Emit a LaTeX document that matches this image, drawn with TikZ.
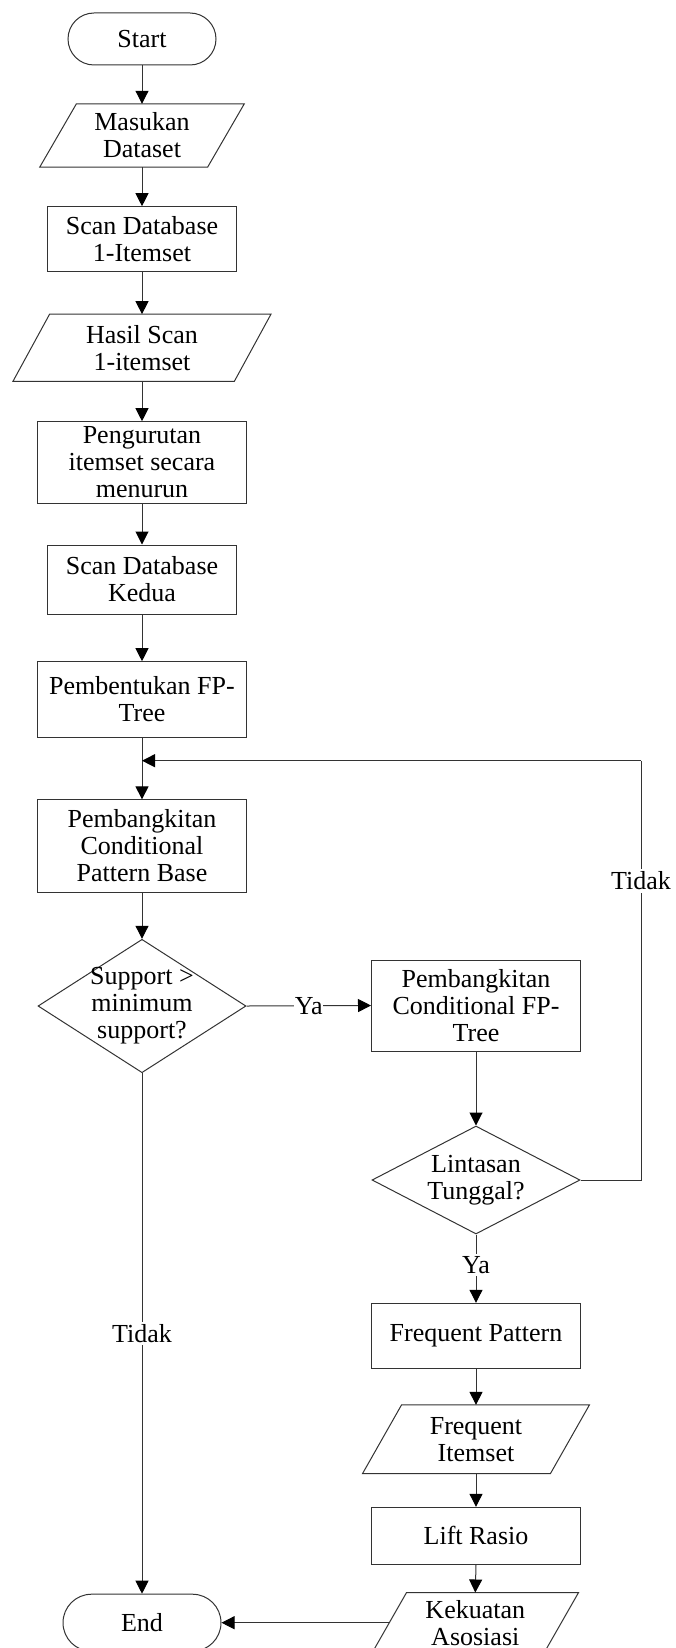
\documentclass[tikz,border=0pt]{standalone}
\usepackage{fontspec}
\setmainfont{Liberation Serif}
\usetikzlibrary{shapes.geometric,shapes.misc,arrows.meta,calc}
\tikzset{
  base/.style={font=\fontsize{26}{27}\selectfont, align=center, inner sep=1pt},
  term/.style={base, rounded rectangle, draw=black!80, line width=1pt},
  proc/.style={base, rectangle, draw=black!80, line width=1pt},
  iobox/.style={base, rectangle},
  dec/.style={base, diamond, draw=black!80, line width=1pt, inner sep=0pt},
  conn/.style={draw=black!80, line width=1pt},
  arr/.style={conn, -{Triangle[width=13pt,length=13pt,color=black]}},
  lbl/.style={base, fill=white, inner xsep=0.5pt, inner ysep=2.5pt},
}
\newcommand\parabox[2]{%
  \draw[conn] ($(#1.north west)+(#2,0)$) -- ($(#1.north east)+(#2,0)$)
    -- ($(#1.south east)-(#2,0)$) -- ($(#1.south west)-(#2,0)$) -- cycle;}
\begin{document}
\begin{tikzpicture}[x=1pt,y=-1pt]
\useasboundingbox (0,0) rectangle (675,1648);
% main column
\node[term, minimum width=150pt, minimum height=52pt] (start) at (142,39) {Start};
\node[iobox, minimum width=167.5pt, minimum height=63pt] (in1) at (142,135.5) {Masukan\\Dataset};
\parabox{in1}{18.35}
\node[proc, minimum width=188.3pt, minimum height=65pt] (scan1) at (142,239.2) {Scan Database\\1-Itemset};
\node[iobox, minimum width=221pt, minimum height=66.7pt] (in2) at (142,347.7) {Hasil Scan\\1-itemset};
\parabox{in2}{18.3}
\node[proc, minimum width=209.4pt, minimum height=81.6pt] (sort) at (142,462.5) {Pengurutan\\itemset secara\\menurun};
\node[proc, minimum width=188.3pt, minimum height=69pt] (scan2) at (142,579.5) {Scan Database\\Kedua};
\node[proc, minimum width=209.4pt, minimum height=75.6pt] (fptree) at (142,699.5) {Pembentukan FP-\\Tree};
\node[proc, minimum width=209.4pt, minimum height=92.3pt] (cpb) at (142,846) {Pembangkitan\\Conditional\\Pattern Base};
\node[dec, minimum width=208pt, minimum height=133.4pt,
      label={[base]center:{Support >\\minimum\\support?}}] (dec1) at (142,1006) {};
\node[term, minimum width=160pt, minimum height=57pt] (end) at (142,1622.7) {End};
% right column
\node[proc, minimum width=209pt, minimum height=91pt] (cfp) at (476,1005.5) {Pembangkitan\\Conditional FP-\\Tree};
\node[dec, minimum width=208pt, minimum height=108pt,
      label={[base]center:{Lintasan\\Tunggal?}}] (dec2) at (476,1180) {};
\node[proc, minimum width=209.4pt, minimum height=65pt] (fp) at (476,1335.8) {Frequent Pattern};
\node[iobox, minimum width=187.5pt, minimum height=68.3pt] (in3) at (476,1439.2) {Frequent\\Itemset};
\parabox{in3}{19.5}
\node[proc, minimum width=209.4pt, minimum height=57pt] (lift) at (476,1535.8) {Lift Rasio};
\node[iobox, minimum width=171.6pt, minimum height=60pt] (in4) at (475.3,1622.7) {Kekuatan\\Asosiasi};
\parabox{in4}{17.25}
% loop coordinates
\coordinate (loopj) at (142,760.7);
\coordinate (rtop) at (641,760.7);
\coordinate (rmid) at (641,1180);
% connectors
\draw[arr] (start.south) -- (in1.north);
\draw[arr] (in1.south) -- (scan1.north);
\draw[arr] (scan1.south) -- (in2.north);
\draw[arr] (in2.south) -- (sort.north);
\draw[arr] (sort.south) -- (scan2.north);
\draw[arr] (scan2.south) -- (fptree.north);
\draw[arr] (fptree.south) -- (cpb.north);
\draw[arr] (cpb.south) -- (dec1.north);
\draw[arr] (dec1.east) -- node[lbl]{Ya} (cfp.west);
\draw[arr] (dec1.south) -- node[lbl]{Tidak} (end.north);
\draw[arr] (cfp.south) -- (dec2.north);
\draw[arr] (dec2.south) -- node[lbl, pos=0.45]{Ya} (fp.north);
\draw[conn] (dec2.east) -- (rmid) -- node[lbl, pos=0.713]{Tidak} (rtop);
\draw[arr] (rtop) -- (loopj);
\draw[arr] (fp.south) -- (in3.north);
\draw[arr] (in3.south) -- (lift.north);
\draw[arr] (lift.south) -- (in4.north);
\draw[arr] (in4.west) -- (end.east);
\end{tikzpicture}
\end{document}
